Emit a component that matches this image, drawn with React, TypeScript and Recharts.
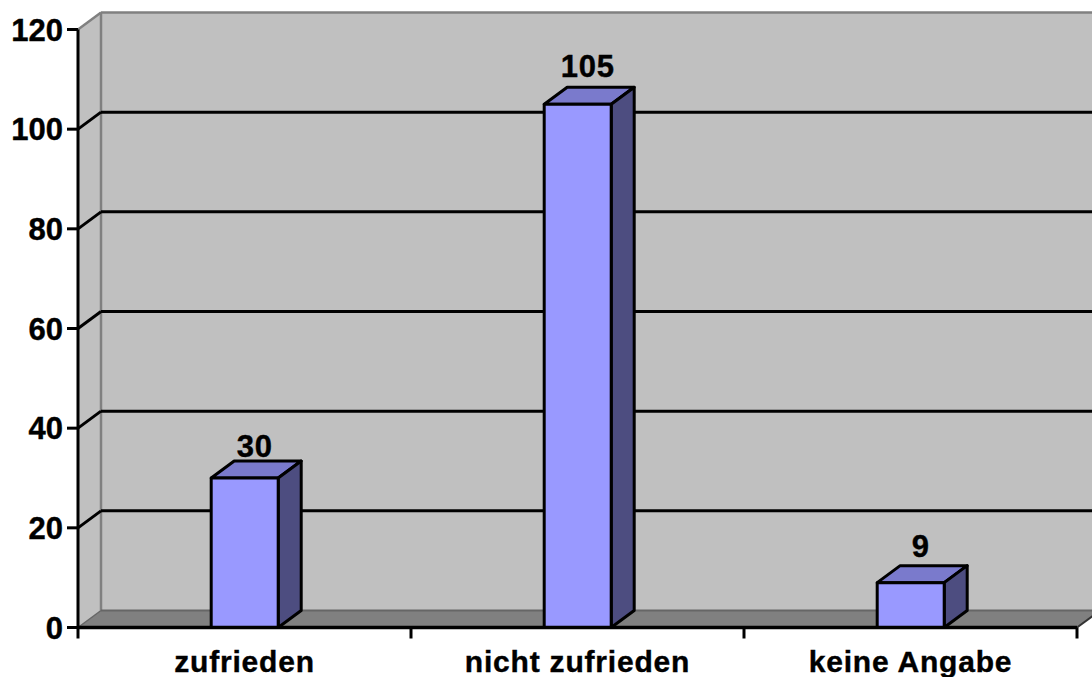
import React from "react";
import { BarChart, Bar, XAxis, YAxis, CartesianGrid, ReferenceArea, LabelList } from "recharts";

const categories = ["zufrieden", "nicht zufrieden", "keine Angabe"];
const counts = [30, 105, 9];
const yTicks = [0, 20, 40, 60, 80, 100, 120];
const labelLift = [21, 27, 26];

const rows = categories.map((name, i) => ({ name, count: counts[i] }));

const DX = 23;
const DY = 17;
const FONT = "'Liberation Sans', Arial, sans-serif";

const Walls = (props: any) => {
  const { x, y, width, height } = props;
  const b = y + height;
  const r = x + width;
  const band = width / categories.length;
  return (
    <g>
      <polygon points={`${x},${y} ${x + DX},${y - DY} ${x + DX},${b - DY} ${x},${b}`} fill="#C0C0C0" stroke="none" />
      <rect x={x + DX} y={y - DY} width={width + 60} height={height} fill="#C0C0C0" />
      <polygon points={`${x},${b} ${x + DX},${b - DY} ${r + DX},${b - DY} ${r},${b}`} fill="#808080" />
      <line x1={x} y1={y} x2={x + DX} y2={y - DY} stroke="#808080" strokeWidth={2.5} />
      <line x1={x + DX} y1={y - DY} x2={r + DX} y2={y - DY} stroke="#808080" strokeWidth={2.5} />
      <line x1={x + DX} y1={y - DY} x2={x + DX} y2={b - DY} stroke="#808080" strokeWidth={2.5} />
      <line x1={x + DX} y1={b - DY} x2={r + DX} y2={b - DY} stroke="#666666" strokeWidth={2} />
      <line x1={x} y1={b} x2={x + DX} y2={b - DY} stroke="#666666" strokeWidth={1.5} />
      <line x1={r} y1={b} x2={r + DX} y2={b - DY} stroke="#333333" strokeWidth={2} />
      {[0, 1, 2, 3].map((i) => (
        <line key={i} x1={x + band * i} y1={b} x2={x + band * i} y2={b + 11} stroke="#000" strokeWidth={3} />
      ))}
    </g>
  );
};

const GridLine = (props: any) => {
  const { x1, y1, x2 } = props;
  if (Math.abs(y1 - 29.5) < 1 || Math.abs(y1 - 627.5) < 1) return <g />;
  return (
    <g>
      <line x1={x1} y1={y1} x2={x1 + DX} y2={y1 - DY} stroke="#000" strokeWidth={3} />
      <line x1={x1 + DX} y1={y1 - DY} x2={x2 + DX} y2={y1 - DY} stroke="#000" strokeWidth={3} />
    </g>
  );
};

const Box3D = (props: any) => {
  const { x, y, width, height } = props;
  const b = y + height;
  const r = x + width;
  return (
    <g stroke="#000" strokeWidth={3} strokeLinejoin="round">
      <polygon points={`${x},${y} ${x + DX},${y - DY} ${r + DX},${y - DY} ${r},${y}`} fill="#7A7ACC" />
      <polygon points={`${r},${y} ${r + DX},${y - DY} ${r + DX},${b - DY} ${r},${b}`} fill="#4D4D80" />
      <rect x={x} y={y} width={width} height={height} fill="#9999FF" />
    </g>
  );
};

const BarValue = (props: any) => {
  const { x, y, width, value, index } = props;
  return (
    <text
      x={x + width / 2 + 10}
      y={y - labelLift[index]}
      textAnchor="middle"
      fontFamily={FONT}
      fontWeight="bold"
      fontSize={31}
      letterSpacing={0.8}
      stroke="#000"
      strokeWidth={0.4}
      fill="#000"
    >
      {value}
    </text>
  );
};

export default function App() {
  const tickStyle = { fontFamily: FONT, fontWeight: "bold", fill: "#000", stroke: "#000", strokeWidth: 0.4 };
  return (
    <div style={{ position: "absolute", left: 0, top: 0, width: 1092, height: 677, background: "#fff", overflow: "hidden" }}>
      <BarChart
        width={1092}
        height={677}
        data={rows}
        barCategoryGap="40%"
        margin={{ top: 29.5, right: 15, bottom: 0, left: 0 }}
      >
        <ReferenceArea y1={0} y2={120} shape={<Walls />} ifOverflow="visible" zIndex={-200} />
        <CartesianGrid vertical={false} horizontal={(p: any) => <GridLine {...p} key={p.key} />} />
        <XAxis
          dataKey="name"
          height={49.5}
          tickLine={false}
          axisLine={{ stroke: "#000", strokeWidth: 3.5 }}
          tick={{ ...tickStyle, fontSize: 30, letterSpacing: 0.8 }}
          tickMargin={17}
          interval={0}
        />
        <YAxis
          width={78}
          domain={[0, 120]}
          ticks={yTicks}
          tickSize={11}
          tickMargin={4}
          tickLine={{ stroke: "#000", strokeWidth: 3 }}
          axisLine={{ stroke: "#000", strokeWidth: 3 }}
          tick={{ ...tickStyle, fontSize: 31 }}
        />
        <Bar dataKey="count" shape={<Box3D />} isAnimationActive={false}>
          <LabelList dataKey="count" content={<BarValue />} />
        </Bar>
      </BarChart>
    </div>
  );
}
